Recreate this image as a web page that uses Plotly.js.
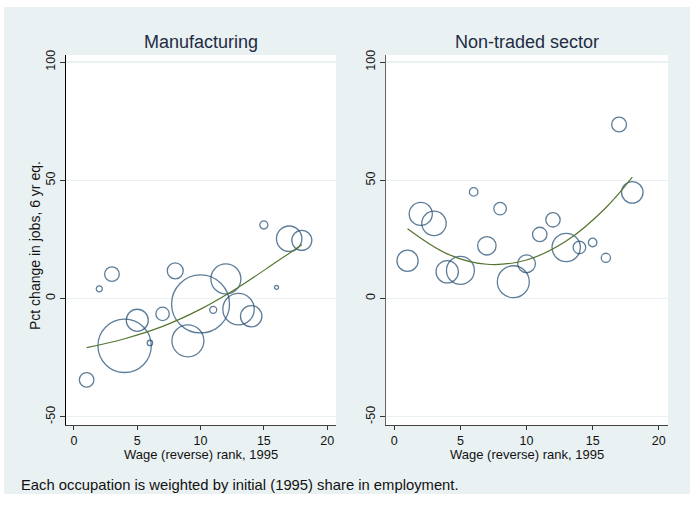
<!DOCTYPE html>
<html>
<head>
<meta charset="utf-8">
<script src="https://cdn.plot.ly/plotly-3.0.1.min.js"></script>
<style>
  html, body { margin: 0; padding: 0; background: #ffffff; }
  #chart { position: absolute; left: 4px; top: 7px; width: 686px; height: 487px; }
</style>
</head>
<body>
<div id="chart"></div>
<script>
// Occupations ranked by 1995 wage (reverse order)
const rankMfg = [1, 2, 3, 4, 5, 6, 7, 8, 9, 10, 11, 12, 13, 14, 15, 16, 17, 18];
// Pct change in jobs, 6 year equivalent
const changeMfg = [-34.4, 4.1, 10.3, -20.0, -9.2, -18.8, -6.5, 11.7, -17.9, -2.3, -4.8, 8.3, -4.5, -7.5, 31.1, 4.7, 25.3, 24.6];
// Initial (1995) share in employment, percent
const shareMfg = [1.75, 0.30, 1.75, 23.4, 4.0, 0.24, 1.48, 2.1, 8.4, 27.6, 0.40, 7.4, 8.1, 3.76, 0.53, 0.13, 5.3, 3.3];

const rankNon = [1, 2, 3, 4, 5, 6, 7, 8, 9, 10, 11, 12, 13, 14, 15, 16, 17, 18];
const changeNon = [16.0, 35.8, 31.8, 11.3, 11.9, 45.1, 22.3, 38.0, 7.1, 14.7, 27.1, 33.3, 21.6, 21.6, 23.7, 17.2, 73.6, 44.9];
const shareNon = [3.7, 4.4, 4.9, 4.1, 6.4, 0.6, 2.8, 1.3, 8.4, 2.6, 1.7, 1.7, 6.6, 1.3, 0.6, 0.7, 1.8, 3.8];

// Weighted quadratic fit curves
const fitRank = [1, 4, 7, 10, 13, 16, 18];
const fitMfg = [-20.8, -17.0, -11.8, -4.5, 4.8, 15.5, 22.7];
const fitNon = [29.5, 18.9, 14.5, 16.3, 24.3, 38.4, 51.3];

const xTicks = [0, 5, 10, 15, 20];
const yTicks = [-50, 0, 50, 100];
const yTickLabels = ['-50', '0', '50', '100'];
const panelTitles = ['Manufacturing', 'Non-traded sector'];
const xTitle = 'Wage (reverse) rank, 1995';
const yTitle = 'Pct change in jobs, 6 yr eq.';
const note = 'Each occupation is weighted by initial (1995) share in employment.';

const NAVY = '#1a476f';
const GREEN = '#55752f';
const BG = '#eaf1f3';
const FONT = 'Liberation Sans, Arial, sans-serif';
const W = 686, H = 487;

// Panel geometry (pixels inside the chart div)
const left = { x0: 62, x1: 332 };
const right = { x0: 382, x1: 664 };
const plotTop = 48, plotBottom = 418;

function bubbles(x, y, w, xa, ya) {
  return {
    type: 'scatter', mode: 'markers', x: x, y: y, xaxis: xa, yaxis: ya,
    marker: {
      symbol: 'circle', color: 'rgba(0,0,0,0)', size: w,
      sizemode: 'area', sizeref: 2 / 121.7,
      line: { color: NAVY, width: 1.3 }
    },
    hoverinfo: 'x+y', showlegend: false, cliponaxis: false
  };
}
function fit(x, y, xa, ya) {
  return {
    type: 'scatter', mode: 'lines', x: x, y: y, xaxis: xa, yaxis: ya,
    line: { color: GREEN, width: 1.2, shape: 'spline' },
    hoverinfo: 'skip', showlegend: false
  };
}

const traces = [
  bubbles(rankMfg, changeMfg, shareMfg, 'x', 'y'),
  fit(fitRank, fitMfg, 'x', 'y'),
  bubbles(rankNon, changeNon, shareNon, 'x2', 'y2'),
  fit(fitRank, fitNon, 'x2', 'y2')
];

function xAxis(p, anchor) {
  return {
    domain: [p.x0 / W, p.x1 / W], anchor: anchor, range: [-0.63, 20.7],
    tickvals: xTicks, ticks: 'outside', ticklen: 4, tickcolor: '#333',
    showline: true, linecolor: '#444', linewidth: 1,
    showgrid: false, zeroline: false, fixedrange: true,
    tickfont: { family: FONT, size: 12.5, color: '#111' }
  };
}
function yAxis(anchor, lineColor) {
  return {
    domain: [(H - plotBottom) / H, (H - plotTop) / H], anchor: anchor, range: [-53.5, 103],
    tickmode: 'array', tickvals: yTicks, ticktext: yTickLabels,
    ticks: 'outside', ticklen: 5, tickcolor: '#333',
    tickangle: -90,
    showline: true, linecolor: lineColor, linewidth: 1,
    showgrid: true, gridcolor: BG, gridwidth: 1.2,
    zeroline: false, fixedrange: true,
    tickfont: { family: FONT, size: 12.5, color: '#111' }
  };
}

const ann = (text, px, py, opts) => Object.assign({
  text: text, x: px / W, y: 1 - py / H, xref: 'paper', yref: 'paper',
  xanchor: 'center', yanchor: 'middle',
  showarrow: false, font: { family: FONT, size: 13, color: '#111' }
}, opts || {});

const titleFont = { family: FONT, size: 18, color: '#1e2c44' };

const layout = {
  width: W, height: H,
  margin: { l: 0, r: 0, t: 0, b: 0 },
  paper_bgcolor: BG, plot_bgcolor: '#ffffff',
  showlegend: false,
  xaxis: xAxis(left, 'y'),
  yaxis: yAxis('x', '#000'),
  xaxis2: xAxis(right, 'y2'),
  yaxis2: yAxis('x2', '#666'),
  annotations: [
    ann(panelTitles[0], (left.x0 + left.x1) / 2, 35, { font: titleFont }),
    ann(panelTitles[1], (right.x0 + right.x1) / 2, 35, { font: titleFont }),
    ann(xTitle, (left.x0 + left.x1) / 2, 447.5),
    ann(xTitle, (right.x0 + right.x1) / 2, 447.5),
    ann(yTitle, 31, 239, { textangle: -90, font: { family: FONT, size: 14, color: '#111' } }),
    ann(note, 15, 478, { xanchor: 'left', font: { family: FONT, size: 14.8, color: '#111' } })
  ]
};

Plotly.newPlot('chart', traces, layout, { displayModeBar: false, staticPlot: true });
</script>
</body>
</html>
